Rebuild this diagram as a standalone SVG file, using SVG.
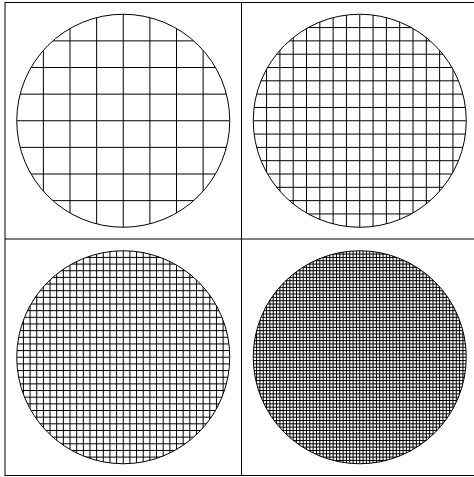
<svg xmlns="http://www.w3.org/2000/svg" width="474" height="477" viewBox="0 0 474 477">
<style>
.frame{fill:none;stroke:#000;stroke-width:1}
.grid{fill:none;stroke:#000;stroke-width:1}
.ring{fill:none;stroke:#000;stroke-width:1}
</style>
<defs>
<clipPath id="c1"><circle cx="123.25" cy="120.75" r="106.5"/></clipPath>
<clipPath id="c2"><circle cx="359.75" cy="120.75" r="106.5"/></clipPath>
<clipPath id="c3"><circle cx="123.25" cy="357.25" r="106.5"/></clipPath>
<clipPath id="c4"><circle cx="359.75" cy="357.25" r="106.5"/></clipPath>
</defs>
<rect width="474" height="477" fill="#fff"/>
<g id="frame">
<rect class="frame" x="5" y="2.5" width="473" height="473"/>
<line class="frame" x1="241.5" y1="2.5" x2="241.5" y2="475.5"/>
<line class="frame" x1="5" y1="239" x2="478" y2="239"/>
</g>
<g id="panel-8">
<path class="grid" clip-path="url(#c1)" d="M43.375 14.25v213m26.625-213v213m26.625-213v213m26.625-213v213m26.625-213v213m26.625-213v213m26.625-213v213
M16.75 40.875h213m-213 26.625h213m-213 26.625h213m-213 26.625h213m-213 26.625h213m-213 26.625h213m-213 26.625h213"/>
<circle class="ring" cx="123.25" cy="120.75" r="106.5"/>
</g>
<g id="panel-16">
<path class="grid" clip-path="url(#c2)" d="M266.5625 14.25v213
m13.3125-213v213m13.3125-213v213m13.3125-213v213m13.3125-213v213m13.3125-213v213m13.3125-213v213m13.3125-213v213
m13.3125-213v213m13.3125-213v213m13.3125-213v213m13.3125-213v213m13.3125-213v213m13.3125-213v213m13.3125-213v213
M253.25 27.5625h213
m-213 13.3125h213m-213 13.3125h213m-213 13.3125h213m-213 13.3125h213m-213 13.3125h213m-213 13.3125h213m-213 13.3125h213
m-213 13.3125h213m-213 13.3125h213m-213 13.3125h213m-213 13.3125h213m-213 13.3125h213m-213 13.3125h213m-213 13.3125h213"/>
<circle class="ring" cx="359.75" cy="120.75" r="106.5"/>
</g>
<g id="panel-32">
<path class="grid" clip-path="url(#c3)" d="M23.40625 250.75v213
m6.65625-213v213m6.65625-213v213m6.65625-213v213m6.65625-213v213m6.65625-213v213m6.65625-213v213m6.65625-213v213m6.65625-213v213m6.65625-213v213m6.65625-213v213
m6.65625-213v213m6.65625-213v213m6.65625-213v213m6.65625-213v213m6.65625-213v213m6.65625-213v213m6.65625-213v213m6.65625-213v213m6.65625-213v213m6.65625-213v213
m6.65625-213v213m6.65625-213v213m6.65625-213v213m6.65625-213v213m6.65625-213v213m6.65625-213v213m6.65625-213v213m6.65625-213v213m6.65625-213v213m6.65625-213v213
M16.75 257.40625h213
m-213 6.65625h213m-213 6.65625h213m-213 6.65625h213m-213 6.65625h213m-213 6.65625h213m-213 6.65625h213m-213 6.65625h213m-213 6.65625h213m-213 6.65625h213m-213 6.65625h213
m-213 6.65625h213m-213 6.65625h213m-213 6.65625h213m-213 6.65625h213m-213 6.65625h213m-213 6.65625h213m-213 6.65625h213m-213 6.65625h213m-213 6.65625h213m-213 6.65625h213
m-213 6.65625h213m-213 6.65625h213m-213 6.65625h213m-213 6.65625h213m-213 6.65625h213m-213 6.65625h213m-213 6.65625h213m-213 6.65625h213m-213 6.65625h213m-213 6.65625h213"/>
<circle class="ring" cx="123.25" cy="357.25" r="106.5"/>
</g>
<g id="panel-64">
<path class="grid" clip-path="url(#c4)" d="M256.578125 250.75v213
m3.328125-213v213m3.328125-213v213m3.328125-213v213m3.328125-213v213m3.328125-213v213m3.328125-213v213m3.328125-213v213m3.328125-213v213m3.328125-213v213m3.328125-213v213
m3.328125-213v213m3.328125-213v213m3.328125-213v213m3.328125-213v213m3.328125-213v213m3.328125-213v213m3.328125-213v213m3.328125-213v213m3.328125-213v213m3.328125-213v213
m3.328125-213v213m3.328125-213v213m3.328125-213v213m3.328125-213v213m3.328125-213v213m3.328125-213v213m3.328125-213v213m3.328125-213v213m3.328125-213v213m3.328125-213v213
m3.328125-213v213m3.328125-213v213m3.328125-213v213m3.328125-213v213m3.328125-213v213m3.328125-213v213m3.328125-213v213m3.328125-213v213m3.328125-213v213m3.328125-213v213
m3.328125-213v213m3.328125-213v213m3.328125-213v213m3.328125-213v213m3.328125-213v213m3.328125-213v213m3.328125-213v213m3.328125-213v213m3.328125-213v213m3.328125-213v213
m3.328125-213v213m3.328125-213v213m3.328125-213v213m3.328125-213v213m3.328125-213v213m3.328125-213v213m3.328125-213v213m3.328125-213v213m3.328125-213v213m3.328125-213v213
m3.328125-213v213m3.328125-213v213
M253.25 254.078125h213
m-213 3.328125h213m-213 3.328125h213m-213 3.328125h213m-213 3.328125h213m-213 3.328125h213m-213 3.328125h213m-213 3.328125h213m-213 3.328125h213m-213 3.328125h213m-213 3.328125h213
m-213 3.328125h213m-213 3.328125h213m-213 3.328125h213m-213 3.328125h213m-213 3.328125h213m-213 3.328125h213m-213 3.328125h213m-213 3.328125h213m-213 3.328125h213m-213 3.328125h213
m-213 3.328125h213m-213 3.328125h213m-213 3.328125h213m-213 3.328125h213m-213 3.328125h213m-213 3.328125h213m-213 3.328125h213m-213 3.328125h213m-213 3.328125h213m-213 3.328125h213
m-213 3.328125h213m-213 3.328125h213m-213 3.328125h213m-213 3.328125h213m-213 3.328125h213m-213 3.328125h213m-213 3.328125h213m-213 3.328125h213m-213 3.328125h213m-213 3.328125h213
m-213 3.328125h213m-213 3.328125h213m-213 3.328125h213m-213 3.328125h213m-213 3.328125h213m-213 3.328125h213m-213 3.328125h213m-213 3.328125h213m-213 3.328125h213m-213 3.328125h213
m-213 3.328125h213m-213 3.328125h213m-213 3.328125h213m-213 3.328125h213m-213 3.328125h213m-213 3.328125h213m-213 3.328125h213m-213 3.328125h213m-213 3.328125h213m-213 3.328125h213
m-213 3.328125h213m-213 3.328125h213"/>
<circle class="ring" cx="359.75" cy="357.25" r="106.5"/>
</g>
</svg>
